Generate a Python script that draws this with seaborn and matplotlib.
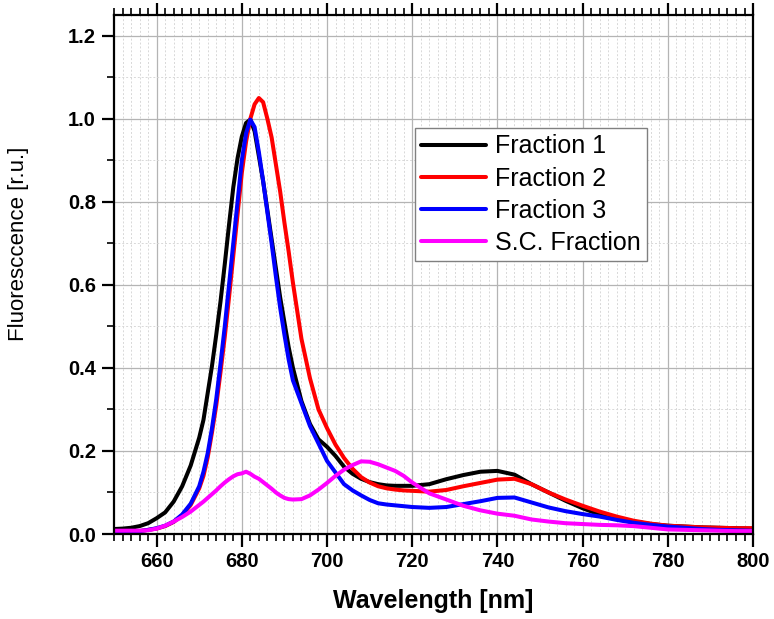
import matplotlib
matplotlib.use("Agg")
import matplotlib.pyplot as plt
import seaborn as sns
import pandas as pd
import numpy as np
from matplotlib.ticker import MultipleLocator, FormatStrFormatter

wavelength = [650, 652, 654, 656, 658, 660, 662, 664, 666, 668, 670, 671, 672, 673, 674,
              675, 676, 677, 678, 679, 680, 681, 682, 683, 684, 685, 686, 687, 688, 689,
              690, 691, 692, 694, 696, 698, 700, 702, 704, 706, 708, 710, 712, 714, 716,
              718, 720, 724, 728, 732, 736, 740, 744, 748, 752, 756, 760, 764, 768, 772,
              776, 780, 784, 788, 792, 796, 800]

fraction1 = [0.012, 0.013, 0.015, 0.019, 0.026, 0.038, 0.052, 0.078, 0.115, 0.165, 0.232, 0.275,
             0.34, 0.405, 0.48, 0.56, 0.65, 0.745, 0.835, 0.905, 0.957, 0.99, 0.998, 0.97,
             0.91, 0.85, 0.78, 0.71, 0.64, 0.57, 0.51, 0.45, 0.40, 0.32, 0.265, 0.228, 0.21,
             0.188, 0.162, 0.145, 0.133, 0.125, 0.12, 0.117, 0.116, 0.116, 0.116, 0.12, 0.132,
             0.142, 0.15, 0.152, 0.143, 0.12, 0.1, 0.08, 0.062, 0.047, 0.037, 0.03, 0.024,
             0.02, 0.018, 0.016, 0.015, 0.014, 0.013]

fraction2 = [0.005, 0.005, 0.006, 0.007, 0.01, 0.013, 0.019, 0.029, 0.045, 0.07, 0.11, 0.14,
             0.185, 0.245, 0.31, 0.39, 0.475, 0.57, 0.67, 0.77, 0.87, 0.945, 1.0, 1.035, 1.05,
             1.04, 1.0, 0.955, 0.89, 0.825, 0.75, 0.68, 0.605, 0.47, 0.375, 0.3, 0.255, 0.215,
             0.183, 0.157, 0.137, 0.124, 0.115, 0.11, 0.107, 0.105, 0.104, 0.102, 0.106, 0.115,
             0.123, 0.131, 0.133, 0.12, 0.1, 0.083, 0.068, 0.054, 0.042, 0.032, 0.025, 0.02,
             0.018, 0.016, 0.015, 0.014, 0.014]

fraction3 = [0.004, 0.004, 0.005, 0.007, 0.01, 0.014, 0.02, 0.03, 0.047, 0.073, 0.115, 0.15,
             0.195, 0.255, 0.325, 0.41, 0.5, 0.6, 0.7, 0.8, 0.9, 0.965, 0.998, 0.98, 0.92, 0.85,
             0.775, 0.7, 0.62, 0.545, 0.48, 0.42, 0.37, 0.315, 0.26, 0.218, 0.176, 0.148, 0.12,
             0.105, 0.093, 0.082, 0.074, 0.071, 0.069, 0.067, 0.065, 0.063, 0.065, 0.072, 0.079,
             0.087, 0.088, 0.076, 0.064, 0.055, 0.048, 0.042, 0.034, 0.027, 0.022, 0.018, 0.015,
             0.012, 0.01, 0.009, 0.008]

sc_fraction = [0.008, 0.008, 0.008, 0.008, 0.009, 0.013, 0.02, 0.03, 0.041, 0.054, 0.07, 0.078,
               0.087, 0.096, 0.105, 0.115, 0.124, 0.132, 0.139, 0.144, 0.146, 0.15, 0.145, 0.138,
               0.133, 0.125, 0.117, 0.109, 0.1, 0.093, 0.087, 0.084, 0.083, 0.084, 0.093, 0.107,
               0.123, 0.14, 0.155, 0.166, 0.175, 0.174, 0.168, 0.16, 0.152, 0.14, 0.124, 0.098,
               0.083, 0.068, 0.057, 0.049, 0.044, 0.035, 0.03, 0.026, 0.024, 0.022, 0.021, 0.019,
               0.015, 0.011, 0.01, 0.009, 0.008, 0.007, 0.007]

series_names = ["Fraction 1", "Fraction 2", "Fraction 3", "S.C. Fraction"]
colors = ["#000000", "#ff0000", "#0000ff", "#ff00ff"]

frames = []
for name, vals in zip(series_names, [fraction1, fraction2, fraction3, sc_fraction]):
    frames.append(pd.DataFrame({"Wavelength": wavelength, "Fluorescence": vals, "Series": name}))
df = pd.concat(frames, ignore_index=True)

sns.set_style("white")
plt.rcParams['font.family'] = ['Liberation Sans', 'DejaVu Sans']
plt.rcParams['text.color'] = 'black'
plt.rcParams['axes.labelcolor'] = 'black'
plt.rcParams['xtick.color'] = 'black'
plt.rcParams['ytick.color'] = 'black'

fig = plt.figure(figsize=(7.74, 6.19), dpi=100)
ax = fig.add_axes([0.1473, 0.1373, 0.9729 - 0.1473, 0.9758 - 0.1373])

sns.lineplot(data=df, x="Wavelength", y="Fluorescence", hue="Series",
             palette=dict(zip(series_names, colors)), linewidth=2.9, ax=ax, sort=False)

ax.set_xlim(650, 800)
ax.set_ylim(0, 1.25)
ax.xaxis.set_major_locator(MultipleLocator(20))
ax.xaxis.set_minor_locator(MultipleLocator(2))
ax.yaxis.set_major_locator(MultipleLocator(0.2))
ax.yaxis.set_minor_locator(MultipleLocator(0.1))
ax.yaxis.set_major_formatter(FormatStrFormatter('%.1f'))

ax.grid(True, which='major', color='#b4b4b4', linewidth=0.9, linestyle='-')
ax.grid(True, which='minor', color='#d8d8d8', linewidth=0.7, linestyle=(0, (2, 2)))
ax.set_axisbelow(True)

for s in ax.spines.values():
    s.set_visible(True)
    s.set_color('black')
    s.set_linewidth(1.6)

ax.tick_params(axis='x', which='both', bottom=True, top=True, direction='out', color='black')
ax.tick_params(axis='y', which='both', left=True, right=False, direction='out', color='black')
ax.tick_params(which='major', length=9, width=1.6, labelsize=14.5, pad=4, labelcolor='black')
ax.tick_params(which='minor', length=5, width=1.2)
for lab in ax.get_xticklabels() + ax.get_yticklabels():
    lab.set_fontweight('bold')

ax.set_xlabel("Wavelength [nm]", fontsize=18, fontweight='bold', labelpad=13, color='black')
ax.set_ylabel("Fluoresccence [r.u.]", fontsize=16, labelpad=28, color='black')
ax.yaxis.label.set_y(0.559)

leg = ax.legend(loc='upper left', bbox_to_anchor=(0.4706, 0.782), fontsize=18,
                frameon=True, fancybox=False, edgecolor='#808080', framealpha=1,
                handlelength=2.6, handletextpad=0.35, borderpad=0.25, labelspacing=0.33,
                borderaxespad=0)
leg.get_frame().set_linewidth(1.0)
for line in leg.get_lines():
    line.set_linewidth(2.9)
for t in leg.get_texts():
    t.set_color('black')

fig.savefig("out.png", dpi=100)
